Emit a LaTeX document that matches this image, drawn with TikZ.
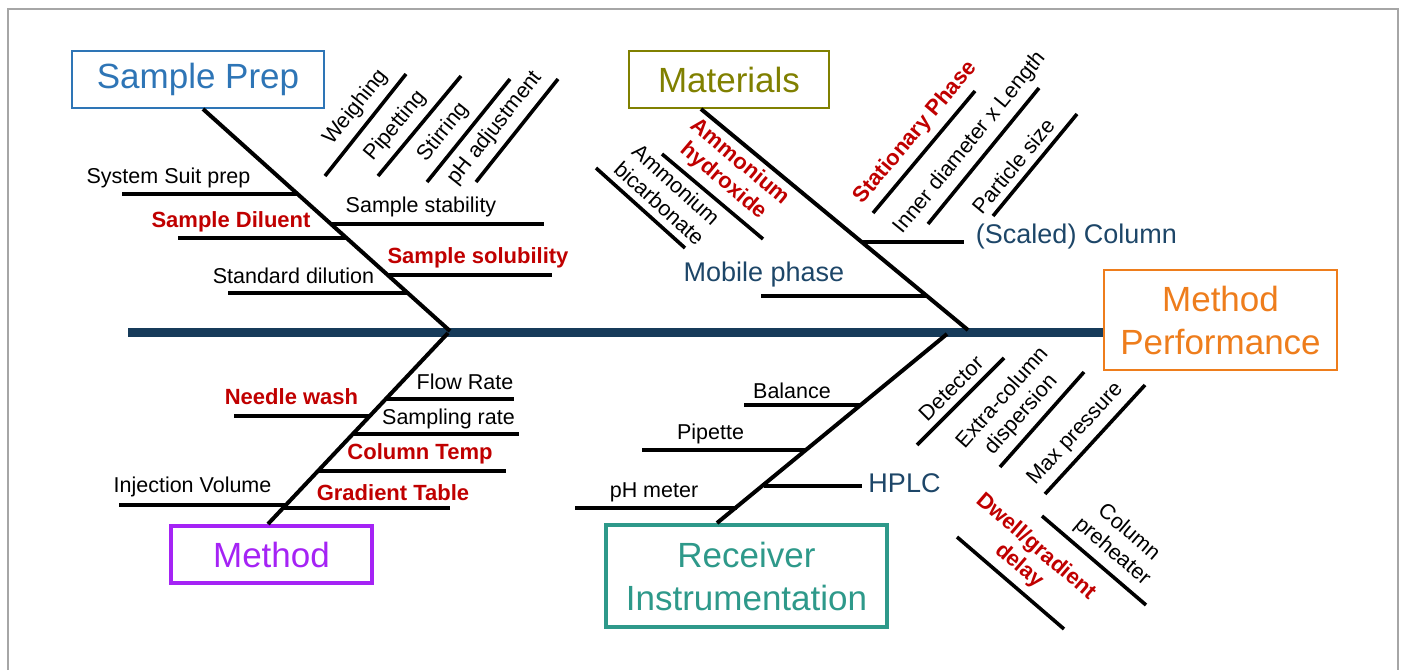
\documentclass[tikz,border=0pt]{standalone}
\usepackage{fontspec}
\setmainfont{Liberation Sans}
\usetikzlibrary{calc}
\definecolor{PrepBlue}{HTML}{2E75B6}
\definecolor{MatOlive}{HTML}{808000}
\definecolor{PerfOrange}{HTML}{EE7D1C}
\definecolor{MethPurple}{HTML}{A523F5}
\definecolor{RecvTeal}{HTML}{2E998A}
\definecolor{SpineNavy}{HTML}{163B5A}
\definecolor{TagNavy}{HTML}{1D4668}
\definecolor{CauseRed}{HTML}{C00000}
\definecolor{FrameGray}{HTML}{A6A6A6}

\begin{document}
\begin{tikzpicture}[x=0.5pt, y=-0.5pt,
  cat/.style={draw, line width=1pt, inner sep=0pt, align=center, font=\fontsize{17.5}{21.5}\selectfont},
  lbl/.style={align=center, font=\fontsize{10.75}{12.5}\selectfont},
  key/.style={align=center, text=CauseRed, font=\fontsize{11}{12.5}\selectfont\bfseries},
  tag/.style={text=TagNavy, font=\fontsize{13.5}{16}\selectfont},
  bone/.style={line width=2pt},
  rib/.style={line width=1.8pt},
  spine/.style={line width=4.5pt, SpineNavy},
  frame/.style={line width=1pt, FrameGray}
]
\useasboundingbox (0,0) rectangle (1403,670);
\draw[frame] (8,670) -- (8,9) -- (1398,9) -- (1398,670);

% category boxes
\node[cat, draw=PrepBlue, text=PrepBlue, minimum width=126pt, minimum height=28.5pt] (sprep) at (198,79.5) {Sample Prep};
\node[cat, draw=MatOlive, text=MatOlive, minimum width=100pt, minimum height=28.5pt] (mat) at (729,79.5) {Materials};
\node[cat, draw=PerfOrange, text=PerfOrange, minimum width=116.5pt, minimum height=50pt] (perf) at (1220.5,320) {Method\\Performance};
\node[cat, draw=MethPurple, text=MethPurple, line width=2pt, minimum width=100.5pt, minimum height=28.5pt] (meth) at (271.5,554.5) {Method};
\node[cat, draw=RecvTeal, text=RecvTeal, line width=2pt, minimum width=140.5pt, minimum height=51pt] (recv) at (746.5,576) {Receiver\\Instrumentation};

% spine and bones
\coordinate (tail) at (128,332);
\coordinate (jprep) at (450,331);
\coordinate (jmat) at (968,330);
\coordinate (jmeth) at (448,333);
\coordinate (jrecv) at (947,334);
\draw[spine] (tail) -- (tail -| perf.west);
\draw[bone] ($(sprep.south)+(5,0)$) -- (jprep);
\draw[bone] ($(mat.south)+(-28,0)$) -- (jmat);
\draw[bone] ($(meth.north)+(-3.5,0)$) -- (jmeth);
\draw[bone] ($(recv.north)+(-29.5,0)$) -- (jrecv);

% Sample Prep
\draw[rib] (122,194) -- (298,194);
\draw[rib] (178,238) -- (346,238);
\draw[rib] (331,224) -- (544,224);
\draw[rib] (388,275) -- (552,275);
\draw[rib] (228,293) -- (408,293);
\node[lbl] (suit) at (168.5,178) {System Suit prep};
\node[key] (dil) at (231,222) {Sample Diluent};
\node[lbl] (stab) at (421,207) {Sample stability};
\node[key] (solu) at (478,258) {Sample solubility};
\node[lbl] (stdd) at (293.5,276) {Standard dilution};
\draw[rib] (325,176) -- (406,74) node[lbl, pos=.56, sloped, above] (weigh) {Weighing};
\draw[rib] (378,176) -- (461,76) node[lbl, pos=.38, sloped, above] (pipet) {Pipetting};
\draw[rib] (427,182) -- (510,79) node[lbl, pos=.37, sloped, above] (stir) {Stirring};
\draw[rib] (476,182) -- (558,79) node[lbl, pos=.41, sloped, above] (phadj) {pH adjustment};

% Materials
\draw[rib] (761,296) -- (927,296);
\draw[rib] (862,242) -- (964,242);
\node[tag] (mobile) at (764,275) {Mobile phase};
\node[tag] (column) at (1076.5,237) {(Scaled) Column};
\draw[rib] (596,168) -- (685,248) node[lbl, pos=.59, sloped, above] (bicarb) {Ammonium\\bicarbonate};
\draw[rib] (662,154) -- (763,239) node[key, pos=.49, sloped, above] (hydrox) {Ammonium\\hydroxide};
\draw[rib] (873,213) -- (975,91) node[key, pos=.56, sloped, above] (statph) {Stationary Phase};
\draw[rib] (928,224) -- (1039,88) node[lbl, pos=.51, sloped, above] (idlen) {Inner diameter x Length};
\draw[rib] (993,216) -- (1077,114) node[lbl, pos=.39, sloped, above] (psize) {Particle size};

% Method
\draw[rib] (386,399) -- (514,399);
\draw[rib] (234,416) -- (370,416);
\draw[rib] (353,434) -- (519,434);
\draw[rib] (319,471) -- (506,471);
\draw[rib] (119,505) -- (287,505);
\draw[rib] (284,508) -- (450,508);
\node[lbl] (flow) at (465,382) {Flow Rate};
\node[key] (needle) at (291.5,397) {Needle wash};
\node[lbl] (samprate) at (448.5,419) {Sampling rate};
\node[key] (coltemp) at (420,454) {Column Temp};
\node[lbl] (injvol) at (192.5,487) {Injection Volume};
\node[key] (gradtab) at (393,493) {Gradient Table};

% Receiver Instrumentation
\draw[rib] (744,405) -- (861,405);
\draw[rib] (642,450) -- (807,450);
\draw[rib] (764,486) -- (862,486);
\draw[rib] (575,508) -- (737,508);
\node[lbl] (balance) at (792,391) {Balance};
\node[lbl] (pipette) at (710.5,434) {Pipette};
\node[tag] (hplc) at (904.5,483) {HPLC};
\node[lbl] (phm) at (654,492) {pH meter};
\draw[rib] (917,445) -- (1004,358) node[lbl, pos=.52, sloped, above] (detect) {Detector};
\draw[rib] (1000,467) -- (1084,372) node[lbl, pos=.42, sloped, above] (extcol) {Extra-column\\dispersion};
\draw[rib] (1045,494) -- (1145,385) node[lbl, pos=.44, sloped, above] (maxp) {Max pressure};
\draw[rib] (957,537) -- (1064,629) node[key, pos=.47, sloped, above] (dwell) {Dwell/gradient\\delay};
\draw[rib] (1042,516) -- (1146,605) node[lbl, pos=.56, sloped, above] (preheat) {Column\\preheater};
\end{tikzpicture}
\end{document}
